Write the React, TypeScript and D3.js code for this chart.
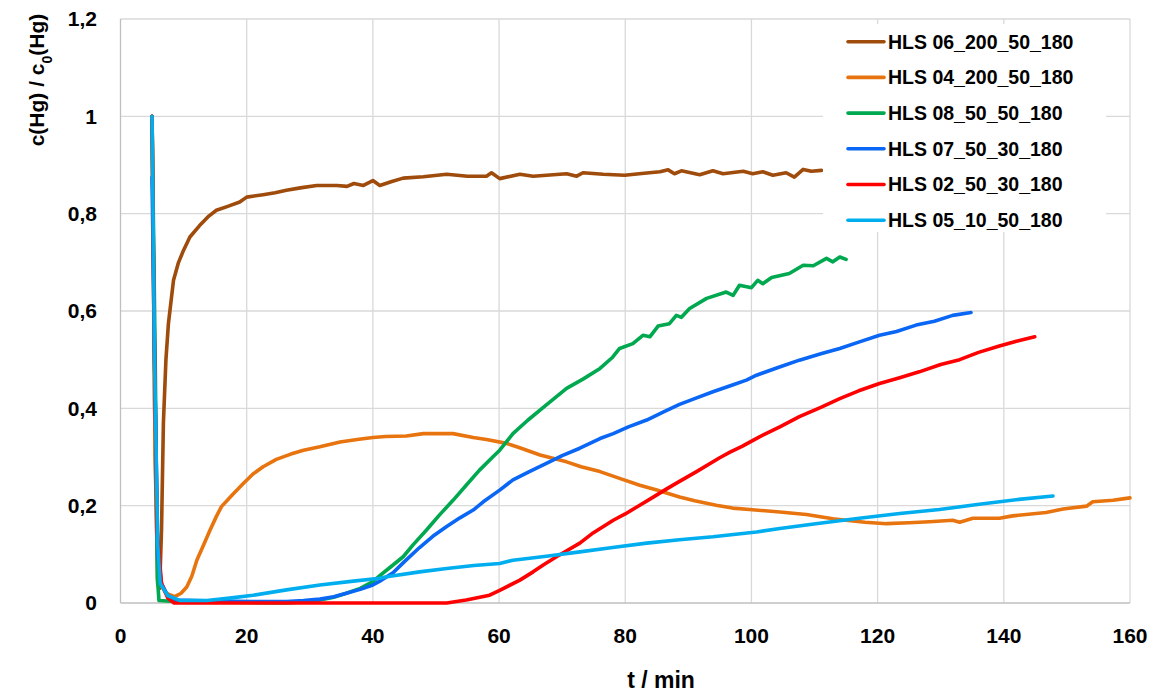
import { useRef, useEffect } from 'react'
import * as d3 from 'd3'

// t / min, c(Hg)/c0(Hg)
const hls06: [number, number][] = [[5,1.0],[5.5,0.3],[5.9,0.04],[6.2,0.03],[6.5,0.15],[6.8,0.37],[7.2,0.5],[7.6,0.575],[8.4,0.663],[9.2,0.70],[10,0.725],[11,0.752],[12.5,0.775],[14,0.795],[15.2,0.807],[17,0.815],[18.9,0.824],[20,0.834],[22.6,0.839],[24.5,0.843],[26.3,0.848],[28.5,0.853],[31.1,0.858],[34.3,0.858],[35.9,0.856],[37,0.862],[38.5,0.858],[40,0.868],[41.1,0.858],[43,0.866],[44.8,0.873],[48,0.876],[51.7,0.881],[55,0.877],[58,0.877],[58.8,0.884],[60.1,0.872],[63.3,0.881],[65.4,0.877],[70.7,0.882],[72.3,0.877],[73.3,0.884],[76.5,0.881],[79.9,0.879],[83,0.883],[85.5,0.886],[86.8,0.890],[87.8,0.882],[88.9,0.888],[91.8,0.880],[93.9,0.888],[95.5,0.882],[98.7,0.887],[100.2,0.882],[101.8,0.886],[103.4,0.879],[105.5,0.884],[106.8,0.875],[108.2,0.891],[109.5,0.887],[111.1,0.889]]
const hls04: [number, number][] = [[5,1.0],[5.4,0.4],[5.8,0.1],[6.3,0.04],[7.2,0.02],[8.6,0.013],[9.6,0.02],[10.5,0.033],[11.3,0.055],[12.1,0.088],[13.2,0.12],[14.2,0.15],[15.2,0.178],[16,0.198],[17.7,0.222],[19.5,0.246],[21,0.265],[22.6,0.28],[24.7,0.295],[27,0.306],[29,0.314],[31.6,0.321],[34.8,0.331],[37.5,0.336],[40,0.340],[42,0.342],[45.3,0.343],[48,0.348],[52.7,0.348],[55.9,0.340],[58,0.336],[61.2,0.328],[63.5,0.318],[66.5,0.304],[70.7,0.29],[73,0.28],[76,0.27],[79.1,0.256],[82.3,0.242],[85,0.232],[88.6,0.218],[91,0.21],[94.4,0.201],[97,0.195],[99.7,0.192],[104.5,0.187],[108.7,0.182],[112.9,0.173],[115,0.170],[118,0.166],[121.4,0.163],[125,0.165],[128.2,0.167],[131.9,0.170],[133,0.166],[135.1,0.174],[139.3,0.174],[141.4,0.179],[146.7,0.186],[149.4,0.193],[153.1,0.199],[154.1,0.208],[157.3,0.211],[160,0.216]]
const hls08: [number, number][] = [[5,1.0],[5.5,0.5],[5.85,0.05],[6.1,0.005],[10,0.002],[20,0.001],[26.3,0.0],[29,0.002],[31.6,0.006],[33.8,0.012],[35.8,0.02],[38,0.03],[40,0.044],[41.1,0.056],[42.9,0.075],[44.8,0.095],[46.4,0.12],[48.5,0.15],[50.5,0.18],[52.7,0.211],[55,0.245],[56.9,0.273],[59,0.3],[60.1,0.314],[62.2,0.348],[64.5,0.375],[67.5,0.407],[70.7,0.441],[73.3,0.46],[76,0.482],[78,0.505],[79.1,0.523],[81.2,0.533],[82.8,0.55],[83.9,0.547],[85.2,0.569],[87,0.574],[88.1,0.591],[88.9,0.587],[90.2,0.605],[92.9,0.626],[96,0.639],[97.1,0.632],[98.1,0.653],[100,0.648],[101,0.663],[101.8,0.656],[103.2,0.669],[106,0.677],[108.2,0.694],[109.8,0.693],[111.9,0.708],[112.9,0.701],[114,0.711],[115,0.706]]
const hls07: [number, number][] = [[5,0.875],[5.4,0.5],[5.9,0.1],[6.5,0.04],[7.5,0.015],[8.9,0.006],[15,0.004],[21,0.003],[26.3,0.003],[29,0.005],[31.6,0.008],[33.8,0.013],[35.8,0.02],[38,0.028],[40,0.037],[41.1,0.045],[43.2,0.062],[45,0.085],[47.4,0.114],[49.5,0.137],[51.7,0.157],[53.8,0.175],[55.9,0.191],[57.5,0.208],[60.1,0.232],[62.2,0.253],[64.8,0.27],[67.5,0.287],[70,0.303],[72.8,0.318],[76,0.338],[78.1,0.348],[80.5,0.362],[83.4,0.376],[86,0.392],[88.6,0.408],[91,0.42],[93.9,0.434],[97,0.448],[99.2,0.458],[100.8,0.468],[104,0.483],[107.6,0.499],[111,0.512],[114,0.523],[117,0.536],[120.3,0.55],[123,0.558],[126.1,0.571],[129,0.579],[131.9,0.591],[134.8,0.597]]
const hls02: [number, number][] = [[5,1.0],[5.4,0.5],[5.8,0.15],[6.5,0.04],[7.5,0.01],[8.5,0.0],[20,0.0],[40,0.0],[51.7,0.0],[54.8,0.006],[58.5,0.016],[60.1,0.026],[63.3,0.047],[65.4,0.064],[67,0.078],[69.1,0.095],[72.8,0.123],[74.9,0.144],[78.1,0.17],[80,0.183],[82.3,0.201],[84.5,0.218],[86.5,0.234],[88.6,0.25],[91.3,0.27],[94.9,0.298],[96.6,0.31],[98.5,0.322],[101.2,0.341],[104.5,0.362],[107.6,0.383],[111,0.402],[114,0.42],[117,0.436],[120.3,0.451],[123.5,0.463],[126.6,0.475],[130,0.49],[133,0.50],[136,0.515],[139.3,0.528],[142,0.538],[144.9,0.547]]
const hls05: [number, number][] = [[5,1.0],[5.4,0.5],[5.9,0.12],[6.3,0.04],[7.5,0.015],[8.9,0.008],[9.4,0.005],[13.7,0.005],[17.3,0.01],[21,0.016],[26.3,0.027],[31.6,0.037],[36.9,0.045],[41.1,0.051],[42.2,0.054],[47.4,0.064],[51.7,0.071],[56,0.077],[60.1,0.081],[62.2,0.088],[67.5,0.096],[72.8,0.105],[78,0.114],[83.4,0.123],[88.6,0.13],[93.9,0.136],[100.8,0.146],[104.5,0.153],[110.8,0.164],[117.1,0.174],[123.5,0.184],[129.8,0.192],[136.1,0.203],[142.4,0.213],[147.8,0.22]]

const seriesNames = ['HLS 06_200_50_180', 'HLS 04_200_50_180', 'HLS 08_50_50_180', 'HLS 07_50_30_180', 'HLS 02_50_30_180', 'HLS 05_10_50_180']
const seriesData = [hls06, hls04, hls08, hls07, hls02, hls05]
const colors = ['#9E4B0C', '#E8740F', '#00A84F', '#0A66F5', '#FF0000', '#00AEEF']
const xTicks = [0, 20, 40, 60, 80, 100, 120, 140, 160]
const yTicks = [0, 0.2, 0.4, 0.6, 0.8, 1, 1.2]

const W = 1157
const H = 693
const FONT = '"Liberation Sans", Arial, sans-serif'

const BreakthroughChart = () => {
  const chartRef = useRef<SVGSVGElement>(null)

  useEffect(() => {
    drawChart()
  }, [])

  const drawChart = () => {
    const svg = d3.select(chartRef.current)
    svg.selectAll('*').remove()
    const margin = { top: 19, right: 27, bottom: 90, left: 120.5 }

    const x = d3.scaleLinear().domain([0, 160]).range([margin.left, W - margin.right])
    const y = d3.scaleLinear().domain([0, 1.2]).range([H - margin.bottom, margin.top])

    // grid
    svg.append('g')
      .selectAll('line.h')
      .data(yTicks.slice(1))
      .enter().append('line')
      .attr('x1', x(0)).attr('x2', x(160))
      .attr('y1', (d) => y(d)).attr('y2', (d) => y(d))
      .attr('stroke', '#d9d9d9').attr('stroke-width', 1.3)
    svg.append('g')
      .selectAll('line.v')
      .data(xTicks.slice(1))
      .enter().append('line')
      .attr('x1', (d) => x(d)).attr('x2', (d) => x(d))
      .attr('y1', y(0)).attr('y2', y(1.2))
      .attr('stroke', '#d9d9d9').attr('stroke-width', 1.3)

    // axes lines
    svg.append('line')
      .attr('x1', x(0)).attr('x2', x(0)).attr('y1', y(0)).attr('y2', y(1.2))
      .attr('stroke', '#bfbfbf').attr('stroke-width', 1.3)
    svg.append('line')
      .attr('x1', x(0)).attr('x2', x(160)).attr('y1', y(0)).attr('y2', y(0))
      .attr('stroke', '#bfbfbf').attr('stroke-width', 1.3)

    const fmt = (d: number) => String(d).replace('.', ',')

    svg.append('g')
      .selectAll('text')
      .data(yTicks)
      .enter().append('text')
      .attr('x', 97)
      .attr('y', (d) => y(d))
      .attr('dy', '0.35em')
      .attr('text-anchor', 'end')
      .style('font-family', FONT).style('font-weight', 'bold').style('font-size', '21px')
      .text(fmt)

    svg.append('g')
      .selectAll('text')
      .data(xTicks)
      .enter().append('text')
      .attr('x', (d) => x(d))
      .attr('y', 636)
      .attr('dy', '0.35em')
      .attr('text-anchor', 'middle')
      .style('font-family', FONT).style('font-weight', 'bold').style('font-size', '21px')
      .text(fmt)

    svg.append('text')
      .attr('x', 661).attr('y', 680).attr('dy', '0.35em')
      .attr('text-anchor', 'middle')
      .style('font-family', FONT).style('font-weight', 'bold').style('font-size', '23px')
      .text('t / min')

    const yTitle = svg.append('text')
      .attr('transform', 'translate(37,80) rotate(-90)')
      .attr('text-anchor', 'middle')
      .attr('dy', '0.35em')
      .style('font-family', FONT).style('font-weight', 'bold').style('font-size', '21px')
    yTitle.append('tspan').text('c(Hg) / c')
    yTitle.append('tspan').attr('baseline-shift', 'sub').style('font-size', '14px').text('0')
    yTitle.append('tspan').text('(Hg)')

    const line = d3.line<[number, number]>()
      .x((d) => x(d[0]))
      .y((d) => y(d[1]))

    seriesData.forEach((data, i) => {
      svg.append('path')
        .datum(data)
        .attr('d', line)
        .attr('fill', 'none')
        .attr('stroke', colors[i])
        .attr('stroke-width', 3.6)
        .attr('stroke-linejoin', 'round')
        .attr('stroke-linecap', 'round')
    })

    // legend
    const lg = svg.append('g')
    lg.append('rect')
      .attr('x', 823).attr('y', 24).attr('width', 283).attr('height', 208)
      .attr('fill', '#fff')
    seriesNames.forEach((name, i) => {
      const cy = 41.7 + i * 35.7
      lg.append('line')
        .attr('x1', 848).attr('x2', 884).attr('y1', cy).attr('y2', cy)
        .attr('stroke', colors[i]).attr('stroke-width', 3.6).attr('stroke-linecap', 'round')
      lg.append('text')
        .attr('x', 888).attr('y', cy).attr('dy', '0.35em')
        .style('font-family', FONT).style('font-weight', 'bold').style('font-size', '19.5px')
        .text(name)
    })
  }

  return (
    <svg ref={chartRef} width={W} height={H} style={{ position: 'absolute', left: 0, top: 0, background: '#fff' }}></svg>
  )
}

export default function App() {
  return <BreakthroughChart />
}
